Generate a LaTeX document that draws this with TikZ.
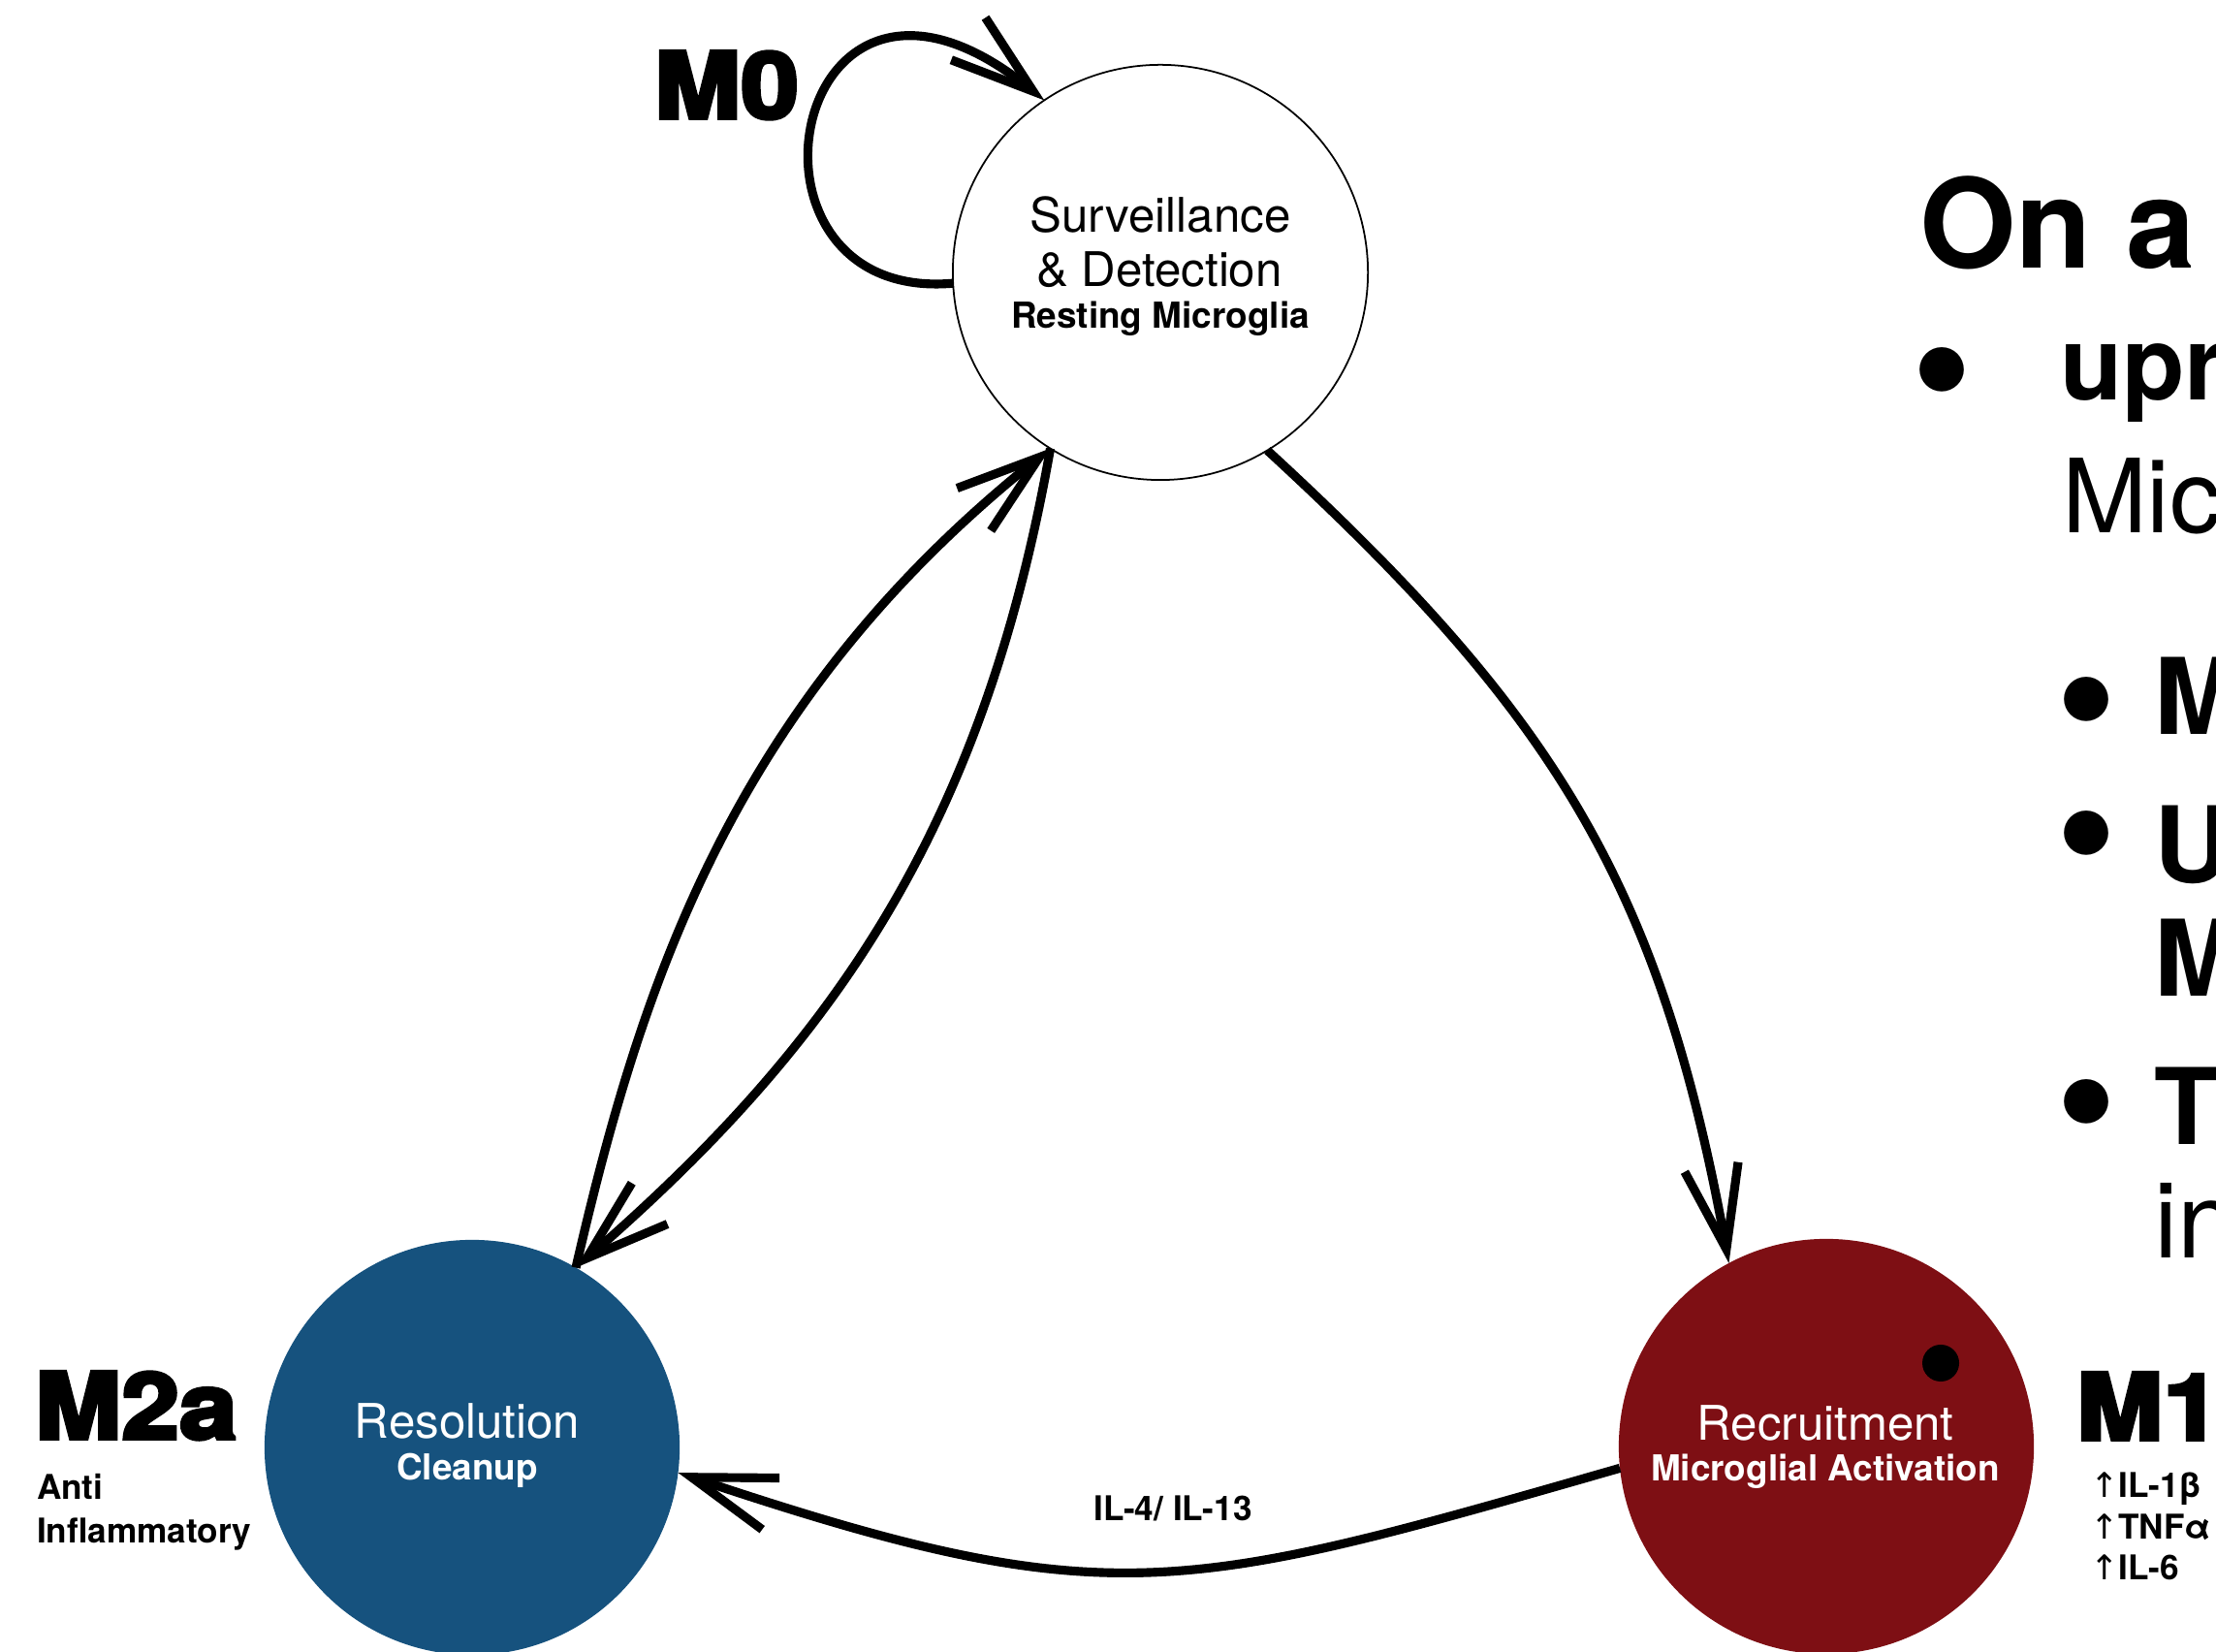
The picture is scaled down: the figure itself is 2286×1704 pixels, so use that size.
\documentclass[tikz,border=0pt]{standalone}
\usepackage{fontspec}
\setmainfont{TeX Gyre Heros}
\newfontfamily\heavyfont[FakeBold=4]{texgyreheros-bold.otf}
\newfontfamily\arrowfont{DejaVu Sans}
\usetikzlibrary{arrows.meta}

\definecolor{resblue}{HTML}{16527E}
\definecolor{recred}{HTML}{7E0F14}

\begin{document}
\begin{tikzpicture}[x=0.01cm, y=0.01cm,
  every node/.style={inner sep=0pt, outer sep=0pt},
  state/.style={circle, minimum size=4.28cm},
  flow/.style={line width=2.6pt, -{Straight Barb[length=8.6mm, width=5.6mm]}},
  phase/.style={anchor=base west, xscale=1.13, font=\heavyfont\fontsize{27}{27}\selectfont},
  note/.style={anchor=base west, font=\bfseries\fontsize{10}{12}\selectfont},
  big/.style={font=\fontsize{14}{16}\selectfont, anchor=base},
  small/.style={font=\bfseries\fontsize{10.5}{12}\selectfont, anchor=base},
  slide/.style={anchor=base west, font=\fontsize{30}{30}\selectfont},
  dotitem/.style={anchor=center, font=\fontsize{52}{52}\selectfont}]
\useasboundingbox (0,0) rectangle (2286,1704);
\clip (0,0) rectangle (2286,1704);

\node[state, draw=black, line width=0.5pt, fill=white] (surv) at (1197,1423) {};
\node[state, fill=resblue] (res) at (487,211) {};
\node[state, fill=recred] (rec) at (1884,212) {};
\node[circle, fill=black, minimum size=3.8mm] (spot) at (2002,298) {};

\node[big] (survA) at (1197,1464) {Surveillance};
\node[big] (survB) at (1196,1408) {\& Detection};
\node[small] (survC) at (1197,1365) {Resting Microglia};
\node[big, text=white] (resA) at (482,220) {Resolution};
\node[small, text=white] (resB) at (482,177) {Cleanup};
\node[big, text=white] (recA) at (1883,218) {Recruitment};
\node[small, text=white] (recB) at (1883,176) {Microglial Activation};

\node[phase] (mzero) at (675,1582) {M0};
\node[phase] (mtwo) at (36,220) {M2a};
\node[phase] (mone) at (2142,219) {M1};
\node[note] (antiA) at (38,157) {Anti};
\node[note] (antiB) at (38,112) {Inflammatory};
\node[note] (cytA) at (2156,159) {{\arrowfont\mdseries ↑}IL-1β};
\node[note] (cytB) at (2156,116) {{\arrowfont\mdseries ↑}TNFα};
\node[note] (cytC) at (2156,74) {{\arrowfont\mdseries ↑}IL-6};
\node[note, anchor=base] (il) at (1210,135) {IL-4/ IL-13};

\node[anchor=base west, font=\bfseries\fontsize{36.4}{36.4}\selectfont] (head) at (1980,1427) {On a};
\node[dotitem] (dotA) at (2003,1302) {•};
\node[slide, font=\bfseries\fontsize{30}{30}\selectfont] (lineA) at (2125,1291) {upr};
\node[slide] (lineB) at (2127,1154) {Mic};
\node[dotitem] (dotB) at (2152,962) {•};
\node[dotitem] (dotC) at (2152,824) {•};
\node[dotitem] (dotD) at (2152,547) {•};
\node[slide, font=\bfseries\fontsize{31}{31}\selectfont] (lineC) at (2222,946) {M};
\node[slide, font=\bfseries\fontsize{31}{31}\selectfont] (lineD) at (2222,793) {U};
\node[slide, font=\bfseries\fontsize{31}{31}\selectfont] (lineE) at (2222,676) {M};
\node[slide, font=\bfseries\fontsize{31}{31}\selectfont] (lineF) at (2222,523) {T};
\node[slide, font=\fontsize{31}{31}\selectfont] (lineG) at (2222,406) {in};

\draw[flow] (surv.183) .. controls +(185:245) and +(141:340) .. (surv.124);
\draw[flow] (surv.-59) .. controls +(-42.6:400) and +(100.3:400) .. (rec.118);
\draw[flow] (rec.186) .. controls +(196:470) and +(-18.5:470) .. (res.-7);
\draw[flow] (res.60) .. controls +(77:300) and +(218.6:420) .. (surv.238);
\draw[flow] (surv.238) .. controls +(260:400) and +(41:350) .. (res.60);
\end{tikzpicture}
\end{document}
